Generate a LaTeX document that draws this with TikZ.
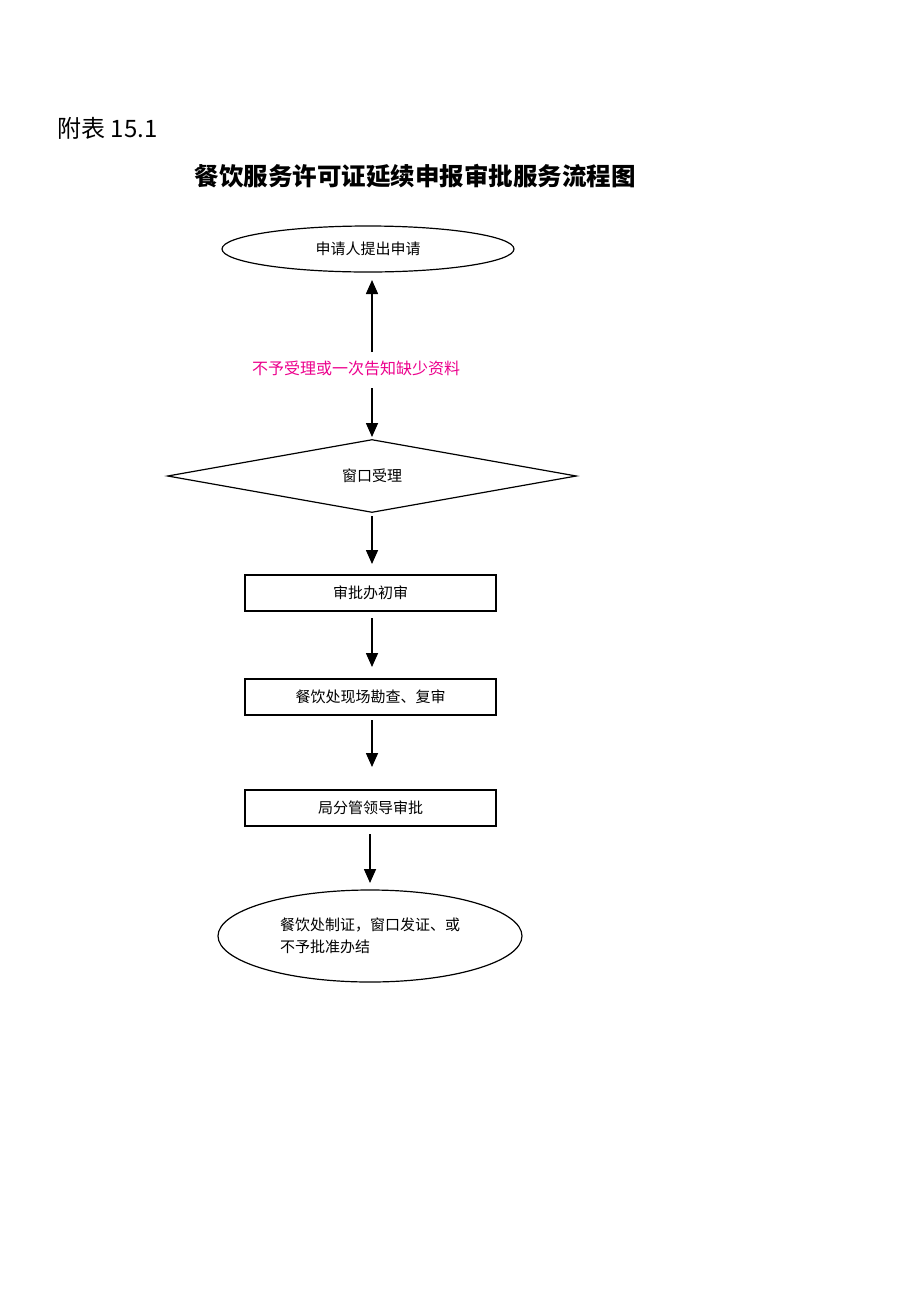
\documentclass[tikz,border=0pt]{standalone}
\usepackage{fontspec}
\setmainfont{Liberation Serif}
\newfontfamily\cjk{Noto Sans CJK SC}
\usetikzlibrary{shapes.geometric,arrows.meta}
\begin{document}
\begin{tikzpicture}[x=1pt,y=-1pt,
  box/.style={draw,line width=1.2pt,minimum width=251pt,minimum height=36pt,font=\cjk\fontsize{15}{17}\selectfont},
  arr/.style={-{Triangle[length=14pt,width=12pt]},line width=1.6pt}]
\useasboundingbox (0,0) rectangle (920,1302);
\node[anchor=west,font=\cjk\fontsize{24}{26}\selectfont] (h) at (54,128) {附表 15.1};
\node[font=\cjk\bfseries\fontsize{24.5}{26}\selectfont] (t) at (415,176) {餐饮服务许可证延续申报审批服务流程图};
\node[draw,ellipse,line width=1.2pt,minimum width=292pt,minimum height=46pt,font=\cjk\fontsize{15}{17}\selectfont] (e1) at (368,249) {申请人提出申请};
\node[font=\cjk\fontsize{16}{18}\selectfont,text=magenta] (lab) at (356,368) {不予受理或一次告知缺少资料};
\node[draw,diamond,aspect=5.6,line width=1.2pt,minimum width=409pt,minimum height=73pt,inner sep=0pt,font=\cjk\fontsize{15}{17}\selectfont] (d) at (372,476) {窗口受理};
\node[box] (r1) at (370.5,593) {审批办初审};
\node[box] (r2) at (370.5,697) {餐饮处现场勘查、复审};
\node[box] (r3) at (370.5,808) {局分管领导审批};
\node[draw,ellipse,line width=1.2pt,minimum width=304pt,minimum height=92pt,align=left,font=\cjk\fontsize{15}{22}\selectfont] (e2) at (370,936) {餐饮处制证，窗口发证、或\\不予批准办结};
\coordinate (a1s) at (372,352); \coordinate (a1e) at (372,280);
\coordinate (a2s) at (372,388); \coordinate (a2e) at (372,437);
\draw[arr] (a1s) -- (a1e);
\draw[arr] (a2s) -- (a2e);
\coordinate (b1) at (372,516); \coordinate (b2) at (372,564);
\draw[arr] (b1) -- (b2);
\coordinate (c1) at (372,618); \coordinate (c2) at (372,667);
\draw[arr] (c1) -- (c2);
\coordinate (f1) at (372,720); \coordinate (f2) at (372,767);
\draw[arr] (f1) -- (f2);
\coordinate (g1) at (370,834); \coordinate (g2) at (370,883);
\draw[arr] (g1) -- (g2);
\end{tikzpicture}
\end{document}
